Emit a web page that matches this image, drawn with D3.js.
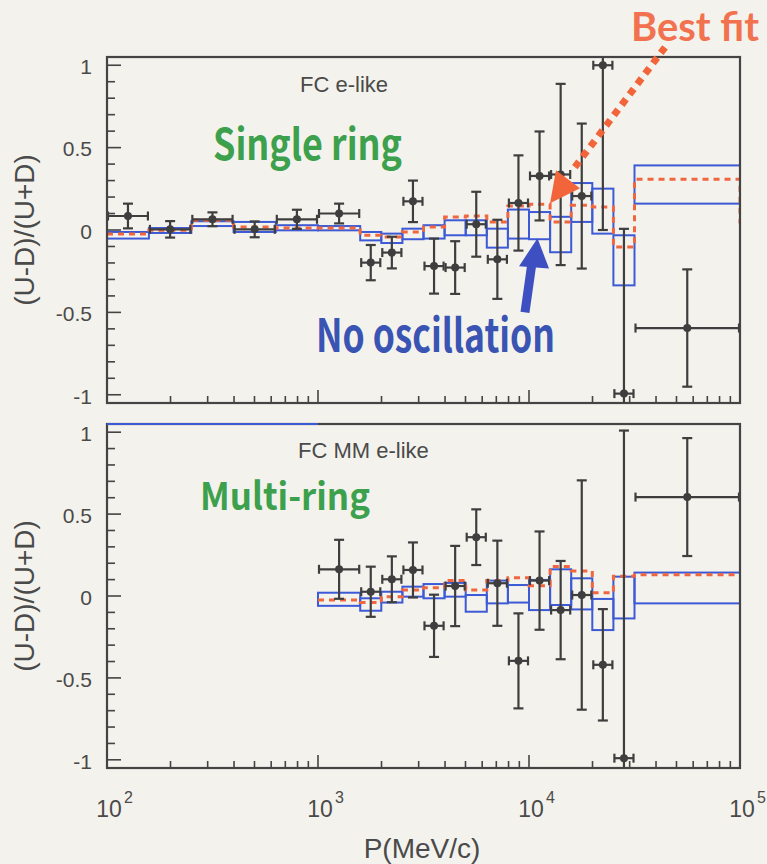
<!DOCTYPE html>
<html>
<head>
<meta charset="utf-8">
<script src="https://cdnjs.cloudflare.com/ajax/libs/d3/7.8.5/d3.min.js"></script>
<style>
  body { margin: 0; background: #f4f2ec; }
  svg { display: block; }
</style>
</head>
<body>
<div id="chart"></div>
<script>
// momentum bin edges (MeV/c)
var binEdges = [100, 158, 251, 398, 631, 1000, 1585, 1995, 2512, 3162, 3981, 5012, 6310, 7943, 10000, 12589, 15849, 19953, 25119, 31623, 100000];

// FC e-like, single ring
var srData    = [0.085, 0.004, 0.065, 0.004, 0.065, 0.10, -0.198, -0.137, 0.174, -0.219, -0.228, 0.035, -0.178, 0.164, 0.328, 0.337, 0.206, 1.0, -0.993, -0.595];
var srErr     = [0.075, 0.05, 0.042, 0.048, 0.058, 0.06, 0.107, 0.096, 0.126, 0.167, 0.16, 0.197, 0.24, 0.289, 0.27, 0.55, 0.44, 1.0, 1.0, 0.356];
var srNoOscLo = [-0.052, -0.018, 0.024, -0.012, -0.002, -0.002, -0.063, -0.079, -0.056, -0.052, -0.032, -0.032, -0.107, -0.052, -0.056, -0.135, 0.049, -0.022, -0.336, 0.16];
var srNoOscHi = [-0.012, 0.012, 0.053, 0.049, 0.029, 0.024, -0.012, -0.022, 0.008, 0.029, 0.059, 0.059, 0.008, 0.124, 0.109, 0.08, 0.285, 0.251, -0.032, 0.392];
var srFit     = [-0.024, -0.002, 0.059, 0.018, 0.012, 0.012, -0.032, -0.042, -0.012, 0.018, 0.079, 0.085, 0.049, 0.146, 0.156, 0.049, 0.15, 0.14, -0.103, 0.308];
var srFitEdge = 0.04;   // where the best-fit line drops at the right frame

// FC MM e-like, multi ring (no entries below 1 GeV/c)
var mrData    = [null, null, null, null, null, 0.163, 0.026, 0.102, 0.159, -0.182, 0.061, 0.359, 0.078, -0.396, 0.094, -0.086, 0.006, -0.42, -0.99, 0.604];
var mrErr     = [null, null, null, null, null, 0.18, 0.153, 0.14, 0.168, 0.19, 0.245, 0.17, 0.26, 0.29, 0.30, 0.30, 0.70, 0.34, 2.0, 0.36];
var mrNoOscLo = [null, null, null, null, null, -0.06, -0.09, -0.04, -0.004, -0.014, -0.004, -0.096, -0.045, -0.04, -0.086, -0.055, -0.082, -0.208, -0.137, -0.045];
var mrNoOscHi = [null, null, null, null, null, 0.02, -0.014, 0.026, 0.057, 0.073, 0.08, 0.006, 0.094, 0.067, 0.098, 0.163, 0.108, -0.018, 0.118, 0.143];
var mrFit     = [null, null, null, null, null, -0.025, -0.04, -0.004, 0.037, 0.05, 0.094, 0.037, 0.094, 0.112, 0.063, 0.18, 0.153, 0.02, 0.12, 0.13];
var mrOverflow = [100, 1000];

var xTickLabels = [100, 1000, 10000, 100000];

var W = 767, H = 864;
var left = 107, right = 740;
var gray = "#444", ptColor = "#3e3e3e", blue = "#3d5ad6", orange = "#f0663e";
var axisFont = "'Liberation Sans', Arial, sans-serif";
var bigFont = "'Noto Sans CJK JP', 'Noto Sans', sans-serif";

var svg = d3.select("#chart").append("svg")
    .attr("width", W).attr("height", H);

var x = d3.scaleLog().domain([100, 100000]).range([left, right]);

function drawPanel(p) {
    var y = d3.scaleLinear().domain([-1.05, 1.05]).range([p.bottom, p.top]);
    var g = svg.append("g");

    g.append("clipPath").attr("id", p.id)
        .append("rect")
        .attr("x", left).attr("y", p.top)
        .attr("width", right - left).attr("height", p.bottom - p.top);

    var plot = g.append("g").attr("clip-path", "url(#" + p.id + ")");

    // no-oscillation MC boxes
    var bins = d3.range(binEdges.length - 1).filter(function (i) { return p.lo[i] != null; });
    plot.selectAll(".box").data(bins).enter().append("rect")
        .attr("x", function (i) { return x(binEdges[i]); })
        .attr("y", function (i) { return y(p.hi[i]); })
        .attr("width", function (i) { return x(binEdges[i + 1]) - x(binEdges[i]); })
        .attr("height", function (i) { return y(p.lo[i]) - y(p.hi[i]); })
        .attr("fill", "none")
        .attr("stroke", blue)
        .attr("stroke-width", 2);

    // best fit step line
    var pts = bins.map(function (i) { return [binEdges[i], p.fit[i]]; });
    var last = bins[bins.length - 1];
    pts.push([binEdges[last + 1], p.fit[last]]);
    if (p.fitEdge != null) pts.push([binEdges[last + 1], p.fitEdge]);
    plot.append("path")
        .attr("d", d3.line().curve(d3.curveStepAfter)
            .x(function (d) { return x(d[0]); })
            .y(function (d) { return y(d[1]); })(pts))
        .attr("fill", "none")
        .attr("stroke", orange)
        .attr("stroke-width", 3)
        .attr("stroke-dasharray", "6 5");

    // data points
    var dbins = d3.range(binEdges.length - 1).filter(function (i) { return p.data[i] != null; });
    var pt = plot.selectAll(".pt").data(dbins).enter().append("g")
        .attr("stroke", ptColor).attr("stroke-width", 2.2).attr("fill", ptColor);
    function cx(i) { return x(Math.sqrt(binEdges[i] * binEdges[i + 1])); }
    pt.append("line")
        .attr("x1", function (i) { return x(binEdges[i]) + 1; })
        .attr("x2", function (i) { return x(binEdges[i + 1]) - 1; })
        .attr("y1", function (i) { return y(p.data[i]); })
        .attr("y2", function (i) { return y(p.data[i]); });
    pt.append("line")
        .attr("x1", cx).attr("x2", cx)
        .attr("y1", function (i) { return y(p.data[i] - p.err[i]); })
        .attr("y2", function (i) { return y(p.data[i] + p.err[i]); });
    [-1, 1].forEach(function (s) {
        pt.append("line")
            .attr("x1", function (i) { return cx(i) - 5; })
            .attr("x2", function (i) { return cx(i) + 5; })
            .attr("y1", function (i) { return y(p.data[i] + s * p.err[i]); })
            .attr("y2", function (i) { return y(p.data[i] + s * p.err[i]); });
        pt.append("line")
            .attr("x1", function (i) { return x(binEdges[s < 0 ? i : i + 1]) + (s < 0 ? 1 : -1); })
            .attr("x2", function (i) { return x(binEdges[s < 0 ? i : i + 1]) + (s < 0 ? 1 : -1); })
            .attr("y1", function (i) { return y(p.data[i]) - 4.5; })
            .attr("y2", function (i) { return y(p.data[i]) + 4.5; });
    });
    pt.append("circle")
        .attr("cx", cx)
        .attr("cy", function (i) { return y(p.data[i]); })
        .attr("r", 4)
        .attr("stroke", "none");

    // ticks (inward)
    x.ticks().forEach(function (v) {
        var lg = Math.log10(v);
        var major = Math.abs(lg - Math.round(lg)) < 1e-6;
        g.append("line")
            .attr("x1", x(v)).attr("x2", x(v))
            .attr("y1", p.bottom).attr("y2", p.bottom - (major ? 13 : 7))
            .attr("stroke", gray).attr("stroke-width", 1.6);
    });
    y.ticks(20).forEach(function (v) {
        var major = Math.abs(v * 2 - Math.round(v * 2)) < 1e-6;
        g.append("line")
            .attr("x1", left).attr("x2", left + (major ? 14 : 8))
            .attr("y1", y(v)).attr("y2", y(v))
            .attr("stroke", gray).attr("stroke-width", 1.6);
        if (major) {
            g.append("text")
                .attr("x", 92).attr("y", y(v))
                .attr("dy", "0.42em")
                .attr("text-anchor", "end")
                .attr("font-family", axisFont)
                .attr("font-size", 21)
                .attr("fill", "#4a4a4a")
                .text(String(+v.toFixed(1)));
        }
    });

    // frame
    g.append("rect")
        .attr("x", left).attr("y", p.top)
        .attr("width", right - left).attr("height", p.bottom - p.top)
        .attr("fill", "none").attr("stroke", gray).attr("stroke-width", 2.2);
    if (p.overflow) {
        g.append("line")
            .attr("x1", x(p.overflow[0])).attr("x2", x(p.overflow[1]))
            .attr("y1", p.top).attr("y2", p.top)
            .attr("stroke", blue).attr("stroke-width", 2.2);
    }

    // y title
    g.append("text")
        .attr("transform", "translate(34," + ((p.top + p.bottom) / 2) + ") rotate(-90)")
        .attr("text-anchor", "middle")
        .attr("font-family", axisFont)
        .attr("font-size", 28)
        .attr("fill", "#4a4a4a")
        .text("(U-D)/(U+D)");

    g.append("text")
        .attr("x", p.label[0]).attr("y", p.label[1])
        .attr("font-family", axisFont)
        .attr("font-size", 22)
        .attr("fill", "#4a4a4a")
        .text(p.labelText);

    return y;
}

var yTop = drawPanel({
    id: "clipTop", top: 57, bottom: 403,
    data: srData, err: srErr, lo: srNoOscLo, hi: srNoOscHi, fit: srFit, fitEdge: srFitEdge,
    label: [300, 92], labelText: "FC e-like"
});
var yBot = drawPanel({
    id: "clipBot", top: 424, bottom: 768,
    data: mrData, err: mrErr, lo: mrNoOscLo, hi: mrNoOscHi, fit: mrFit,
    overflow: mrOverflow,
    label: [298, 458], labelText: "FC MM e-like"
});

// x tick labels 10^n
xTickLabels.forEach(function (v) {
    var cxl = x(v) + 2;
    svg.append("text")
        .attr("x", cxl).attr("y", 817)
        .attr("text-anchor", "middle")
        .attr("font-family", axisFont)
        .attr("font-size", 23)
        .attr("fill", "#4a4a4a")
        .text("10");
    svg.append("text")
        .attr("x", cxl + 15).attr("y", 803)
        .attr("font-family", axisFont)
        .attr("font-size", 16)
        .attr("fill", "#4a4a4a")
        .text(Math.round(Math.log10(v)));
});

svg.append("text")
    .attr("x", 422).attr("y", 858)
    .attr("text-anchor", "middle")
    .attr("font-family", axisFont)
    .attr("font-size", 28)
    .attr("fill", "#4a4a4a")
    .text("P(MeV/c)");

// big annotations
function bigText(txt, xx, yy, size, len, color, font) {
    svg.append("text")
        .attr("x", xx).attr("y", yy)
        .attr("font-family", font || bigFont)
        .attr("font-weight", "bold")
        .attr("font-size", size)
        .attr("textLength", len)
        .attr("lengthAdjust", "spacingAndGlyphs")
        .attr("fill", color)
        .text(txt);
}
bigText("Single ring", 213, 160, 43, 189, "#3ca04c");
bigText("Multi-ring", 200, 510, 38, 170, "#3ca04c");
bigText("No oscillation", 316, 352, 46, 239, "#3a54b4");
// Lato has a smaller ascent, so the label stays inside the top edge
bigText("Best fit", 631, 41, 41, 128, "#f2714f", "Lato, sans-serif");

// arrows, in data coordinates of the top panel
var blueArrowShaft = [[9570, -0.50], [10275, -0.22]];
var blueArrowHead = [[8970, -0.22], [12440, -0.233], [10970, -0.05]];
var fitArrowLine = [[44120, 1.109], [16350, 0.375]];
var fitArrowHead = [[13430, 0.362], [17450, 0.253], [12580, 0.162]];

var pxy = function (d) { return [x(d[0]), yTop(d[1])]; };

svg.append("line")
    .attr("x1", pxy(blueArrowShaft[0])[0]).attr("y1", pxy(blueArrowShaft[0])[1])
    .attr("x2", pxy(blueArrowShaft[1])[0]).attr("y2", pxy(blueArrowShaft[1])[1])
    .attr("stroke", "#3e4fc2").attr("stroke-width", 9);
svg.append("polygon")
    .attr("points", blueArrowHead.map(function (d) { return pxy(d).join(","); }).join(" "))
    .attr("fill", "#3e4fc2");

svg.append("line")
    .attr("x1", pxy(fitArrowLine[0])[0]).attr("y1", pxy(fitArrowLine[0])[1])
    .attr("x2", pxy(fitArrowLine[1])[0]).attr("y2", pxy(fitArrowLine[1])[1])
    .attr("stroke", "#f2653a").attr("stroke-width", 7)
    .attr("stroke-dasharray", "7 6");
svg.append("polygon")
    .attr("points", fitArrowHead.map(function (d) { return pxy(d).join(","); }).join(" "))
    .attr("fill", "#f2653a");
</script>
</body>
</html>
